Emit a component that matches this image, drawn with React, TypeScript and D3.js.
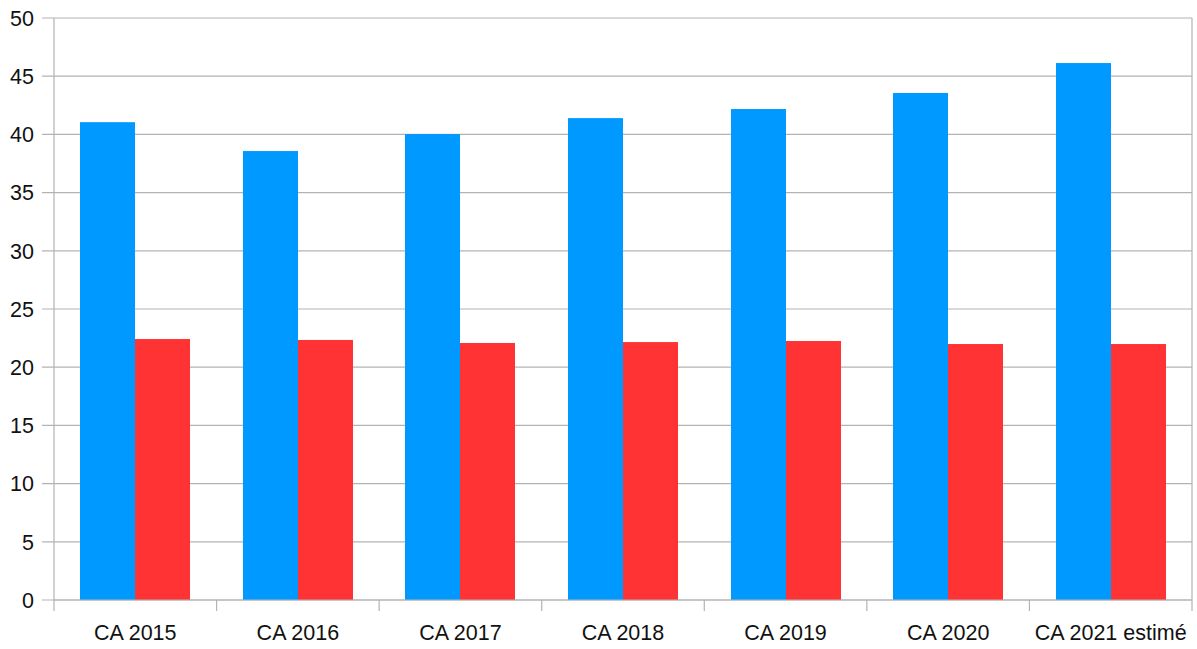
import React from 'react'
import * as d3 from 'd3'

const categories = ['CA 2015', 'CA 2016', 'CA 2017', 'CA 2018', 'CA 2019', 'CA 2020', 'CA 2021 estimé']
const blueValues = [41.05, 38.57, 40.03, 41.4, 42.18, 43.56, 46.13]
const redValues = [22.42, 22.34, 22.08, 22.16, 22.25, 21.99, 21.99]
const yTicks = [0, 5, 10, 15, 20, 25, 30, 35, 40, 45, 50]

const width = 1197,
      height = 649,
      left = 54,
      right = 1192,
      top = 18,
      bottom = 600

const gridColor = '#b3b3b3'
const font = '"Liberation Sans", Arial, sans-serif'

export default function App () {
  const x = d3.scaleBand<string>()
    .domain(categories)
    .range([left, right])
    .paddingInner(0)
    .paddingOuter(0)
  const barWidth = 55
  const groupPad = (x.bandwidth() - 2 * barWidth) / 2

  const y = d3.scaleLinear()
    .domain([0, 50])
    .range([bottom, top])

  return (
    <svg width={width} height={height} style={{ position: 'absolute', left: 0, top: 0, background: '#fff' }}>
      {/* grid lines + y ticks */}
      {yTicks.map(t => (
        <g key={t}>
          <line x1={42} x2={right} y1={y(t)} y2={y(t)} stroke={gridColor} strokeWidth={1.2} />
          <text x={34} y={y(t)} dy='0.36em' textAnchor='end' fontFamily={font} fontSize={21.5} fill='#111'>{t}</text>
        </g>
      ))}

      {/* bars */}
      {categories.map((c, i) => {
        const x0 = Math.round((x(c) as number) + groupPad)
        return (
          <g key={c}>
            <rect x={x0} y={y(blueValues[i])} width={barWidth} height={bottom - y(blueValues[i])} fill='#0099ff' />
            <rect x={x0 + barWidth} y={y(redValues[i])} width={barWidth} height={bottom - y(redValues[i])} fill='#ff3333' />
          </g>
        )
      })}

      {/* axes */}
      <line x1={left} x2={left} y1={top} y2={611} stroke={gridColor} strokeWidth={1.2} />
      <line x1={right} x2={right} y1={top} y2={611} stroke={gridColor} strokeWidth={1.2} />
      <line x1={left} x2={right} y1={bottom} y2={bottom} stroke={gridColor} strokeWidth={1.2} />
      {categories.map((c, i) => (
        <g key={c}>
          {i > 0 && <line x1={x(c)} x2={x(c)} y1={bottom} y2={611} stroke={gridColor} strokeWidth={1.2} />}
          <text x={(x(c) as number) + x.bandwidth() / 2} y={640} textAnchor='middle' fontFamily={font} fontSize={21.5} fill='#111'>{c}</text>
        </g>
      ))}
    </svg>
  )
}
